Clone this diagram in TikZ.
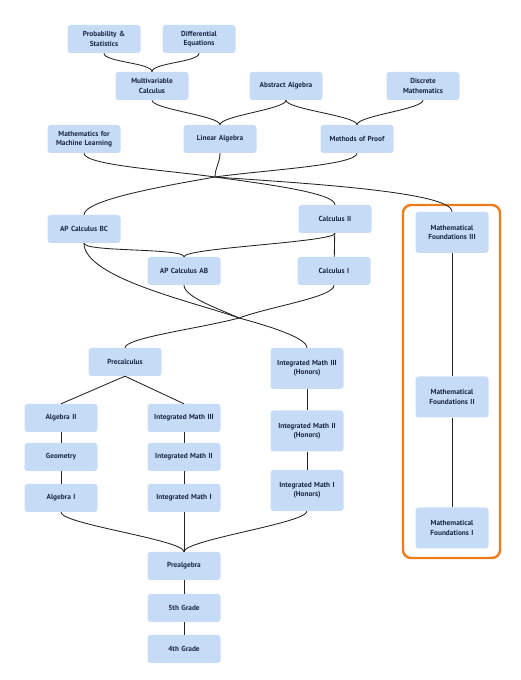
\documentclass[tikz,border=0pt]{standalone}
\usepackage{fontspec}
\setmainfont{PT Sans}
\usepackage{tikz}
\usetikzlibrary{positioning}

\definecolor{boxblue}{RGB}{198,220,246}
\definecolor{textnavy}{RGB}{26,38,66}
\definecolor{lineblack}{RGB}{35,35,35}
\definecolor{frameorange}{RGB}{238,125,25}

\begin{document}
\begin{tikzpicture}[x=1pt, y=1pt]


\tikzstyle{node_style} = [rectangle, rounded corners=3pt, fill=boxblue, text=textnavy, minimum width=73pt, minimum height=28pt, text width=72pt, align=center, inner sep=0.5pt, font=\fontsize{7.3}{9.3}\selectfont\bfseries]

\tikzstyle{tall_style} = [node_style, minimum height=41pt]

\tikzstyle{edge_style} = [draw=lineblack, line width=0.85]

\tikzstyle{bend_style} = [out=-90, in=90, out distance=9pt, in distance=9pt]

\tikzstyle{frame_style} = [draw=frameorange, line width=2.4, rounded corners=8pt, minimum width=97pt, minimum height=353pt]

\useasboundingbox (0,0) rectangle (520,680);

\node[node_style] (prob) at (104, 641) {Probability \&\\Statistics};
\node[node_style] (diffeq) at (199, 641) {Differential\\Equations};
\node[node_style] (multivar) at (152, 594) {Multivariable\\Calculus};
\node[node_style] (absalg) at (286, 594) {Abstract Algebra};
\node[node_style] (discrete) at (423, 594) {Discrete\\Mathematics};
\node[node_style] (mlearn) at (84, 541) {Mathematics for\\Machine Learning};
\node[node_style] (linalg) at (220, 541) {Linear Algebra};
\node[node_style] (proof) at (357, 541) {Methods of Proof};

\node[node_style] (apbc) at (84, 451) {AP Calculus BC};
\node[node_style] (calc2) at (335, 461) {Calculus II};
\node[node_style] (apab) at (184, 409) {AP Calculus AB};
\node[node_style] (calc1) at (334, 409) {Calculus I};

\node[node_style] (precalc) at (125, 318) {Precalculus};
\node[tall_style] (imh3) at (307, 311.5) {Integrated Math III\\(Honors)};
\node[tall_style] (imh2) at (307, 249) {Integrated Math II\\(Honors)};
\node[tall_style] (imh1) at (307, 189.5) {Integrated Math I\\(Honors)};

\node[node_style] (alg2) at (61, 262) {Algebra II};
\node[node_style] (geom) at (61, 223) {Geometry};
\node[node_style] (alg1) at (61, 182) {Algebra I};
\node[node_style] (im3) at (184, 262) {Integrated Math III};
\node[node_style] (im2) at (184, 223) {Integrated Math II};
\node[node_style] (im1) at (184, 182) {Integrated Math I};

\node[node_style] (prealg) at (184, 114) {Prealgebra};
\node[node_style] (grade5) at (184, 72) {5th Grade};
\node[node_style] (grade4) at (184, 31) {4th Grade};

\node[frame_style] (found_box) at (451.5, 298.5) {};
\node[tall_style] (mf3) at (452, 447.5) {Mathematical\\Foundations III};
\node[tall_style] (mf2) at (452, 283) {Mathematical\\Foundations II};
\node[tall_style] (mf1) at (452, 152) {Mathematical\\Foundations I};

\coordinate (hub_top) at (215, 503);
\coordinate (hub_mid) at (239, 362);


\draw[edge_style]  (prob.south) edge[bend_style] (multivar.north);
\draw[edge_style]  (diffeq.south) edge[bend_style] (multivar.north);
\draw[edge_style]  (multivar.south) edge[bend_style] (linalg.north);
\draw[edge_style]  (absalg.south) edge[bend_style] (linalg.north);
\draw[edge_style]  (absalg.south) edge[bend_style] (proof.north);
\draw[edge_style]  (discrete.south) edge[bend_style] (proof.north);

\draw[edge_style]  (mlearn.south) edge[out=-90, in=172, out distance=12pt, in distance=50pt] (hub_top);
\draw[edge_style]  (linalg.south) edge[bend_style] (hub_top);
\draw[edge_style]  (proof.south) edge[out=-90, in=8, out distance=12pt, in distance=50pt] (hub_top);
\draw[edge_style]  (hub_top) edge[out=190, in=90, out distance=50pt, in distance=15pt] (apbc.north);
\draw[edge_style]  (hub_top) edge[out=-8, in=90, out distance=50pt, in distance=12pt] (calc2.north);
\draw[edge_style]  (hub_top) edge[out=-4, in=90, out distance=90pt, in distance=20pt] (mf3.north);

\draw[edge_style]  (apbc.south) edge[bend_style] (apab.north);
\draw[edge_style]  (calc2.south) edge[bend_style] (apab.north);
\draw[edge_style]  (calc2) edge (calc1);

\draw[edge_style]  (apbc.south) edge[out=-90, in=160, out distance=35pt, in distance=45pt] (hub_mid);
\draw[edge_style]  (apab.south) edge[out=-90, in=155, out distance=12pt, in distance=20pt] (hub_mid);
\draw[edge_style]  (calc1.south) edge[out=-90, in=20, out distance=12pt, in distance=35pt] (hub_mid);
\draw[edge_style]  (hub_mid) edge[out=195, in=90, out distance=40pt, in distance=10pt] (precalc.north);
\draw[edge_style]  (hub_mid) edge[out=-15, in=90, out distance=30pt, in distance=10pt] (imh3.north);

\draw[edge_style]  (precalc.south) edge (alg2.north);
\draw[edge_style]  (precalc.south) edge (im3.north);
\draw[edge_style]  (alg2) edge (geom);
\draw[edge_style]  (geom) edge (alg1);
\draw[edge_style]  (im3) edge (im2);
\draw[edge_style]  (im2) edge (im1);
\draw[edge_style]  (imh3) edge (imh2);
\draw[edge_style]  (imh2) edge (imh1);

\draw[edge_style]  (alg1.south) edge[out=-90, in=90, out distance=12pt, in distance=12pt] (prealg.north);
\draw[edge_style]  (im1) edge (prealg);
\draw[edge_style]  (imh1.south) edge[out=-90, in=90, out distance=12pt, in distance=12pt] (prealg.north);
\draw[edge_style]  (prealg) edge (grade5);
\draw[edge_style]  (grade5) edge (grade4);

\draw[edge_style]  (mf3) edge (mf2);
\draw[edge_style]  (mf2) edge (mf1);


\end{tikzpicture}
\end{document}
